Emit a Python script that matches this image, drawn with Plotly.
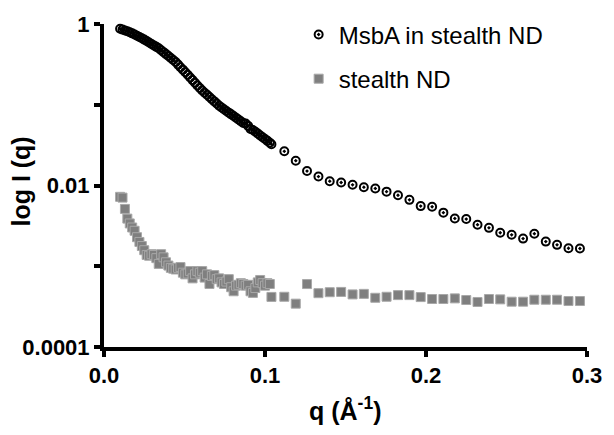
import plotly.graph_objects as go

# ---- data ----
q_dense = [
    0.0100, 0.0115, 0.0130, 0.0145, 0.0160, 0.0175, 0.0190, 0.0205, 0.0220, 0.0235,
    0.0250, 0.0265, 0.0280, 0.0295, 0.0310, 0.0325, 0.0340, 0.0355, 0.0370, 0.0385,
    0.0400, 0.0415, 0.0430, 0.0445, 0.0460, 0.0475, 0.0490, 0.0505, 0.0520, 0.0535,
    0.0550, 0.0565, 0.0580, 0.0595, 0.0610, 0.0625, 0.0640, 0.0655, 0.0670, 0.0685,
    0.0700, 0.0715, 0.0730, 0.0745, 0.0760, 0.0775, 0.0790, 0.0805, 0.0820, 0.0835,
    0.0850, 0.0865, 0.0880, 0.0895, 0.0910, 0.0925, 0.0940, 0.0955, 0.0970, 0.0985,
    0.1000, 0.1015, 0.1030, 0.1040,
]
q_sparse = [
    0.1120, 0.1191, 0.1261, 0.1332, 0.1402, 0.1473, 0.1544, 0.1614, 0.1685, 0.1755,
    0.1826, 0.1897, 0.1967, 0.2038, 0.2108, 0.2179, 0.2250, 0.2320, 0.2391, 0.2461,
    0.2532, 0.2603, 0.2673, 0.2744, 0.2814, 0.2885, 0.2956,
]

msba_dense = [
    0.873, 0.852, 0.832, 0.812, 0.792, 0.766, 0.740, 0.715, 0.690, 0.667,
    0.641, 0.615, 0.590, 0.566, 0.543, 0.521, 0.500, 0.473, 0.448, 0.424,
    0.401, 0.379, 0.359, 0.338, 0.314, 0.292, 0.272, 0.253, 0.235, 0.218,
    0.202, 0.187, 0.173, 0.161, 0.150, 0.141, 0.133, 0.125, 0.117, 0.110,
    0.1035, 0.0973, 0.0923, 0.0879, 0.0838, 0.0798, 0.0760, 0.0724, 0.0690, 0.0658,
    0.0625, 0.0594, 0.0586, 0.0547, 0.0501, 0.0486, 0.0462, 0.0440, 0.0417, 0.0396,
    0.0376, 0.0357, 0.0339, 0.0325,
]
msba_sparse = [
    0.0265, 0.0203, 0.0151, 0.0129, 0.0113, 0.0109, 0.0102, 0.00953, 0.00920, 0.00839,
    0.00757, 0.00664, 0.00556, 0.00546, 0.00461, 0.00391, 0.00384, 0.00327, 0.00299, 0.00260,
    0.00245, 0.00220, 0.00253, 0.00202, 0.00184, 0.00167, 0.00166,
]

nd_dense = [
    0.00724, 0.00708, 0.00513, 0.00389, 0.00339, 0.00302, 0.00275, 0.00229, 0.00200, 0.00178,
    0.00158, 0.00138, 0.00135, 0.00141, 0.00138, 0.00126, 0.00107, 0.00141, 0.00129, 0.00112,
    0.00102, 0.000955, 0.000933, 0.000912, 0.000955, 0.000977, 0.000832, 0.000794, 0.000813, 0.000871,
    0.000708, 0.000794, 0.000871, 0.000832, 0.000871, 0.000724, 0.000794, 0.000603, 0.000759, 0.000776,
    0.000692, 0.000708, 0.000631, 0.000603, 0.000646, 0.000692, 0.000550, 0.000490, 0.000575, 0.000589,
    0.000617, 0.000603, 0.000575, 0.000589, 0.000490, 0.000468, 0.000537, 0.000631, 0.000676, 0.000617,
    0.000575, 0.000617, 0.000603, 0.000417,
]
nd_sparse = [
    0.000419, 0.000344, 0.000602, 0.000464, 0.000477, 0.000481, 0.000448, 0.000455, 0.000407, 0.000419,
    0.000439, 0.000439, 0.000415, 0.000393, 0.000393, 0.000400, 0.000382, 0.000361, 0.000393, 0.000389,
    0.000364, 0.000364, 0.000385, 0.000385, 0.000385, 0.000371, 0.000371,
]

series_names = ["MsbA in stealth ND", "stealth ND"]
x_tick_vals = [0.0, 0.1, 0.2, 0.3]
x_tick_text = ["0.0", "0.1", "0.2", "0.3"]
y_tick_vals = [1, 0.01, 0.0001]
y_tick_text = ["1", "0.01", "0.0001"]
y_minor_vals = [0.1, 0.001]

q_values = q_dense + q_sparse
msba_values = msba_dense + msba_sparse
nd_values = nd_dense + nd_sparse

FONT = "Liberation Sans, Arial, Helvetica, sans-serif"

fig = go.Figure()
fig.add_trace(go.Scatter(
    x=q_values, y=msba_values, mode="markers", name=series_names[0],
    legendgroup="g1", cliponaxis=False,
    marker=dict(symbol="circle-open-dot", size=8, color="black",
                line=dict(color="black", width=2.0)),
))
fig.add_trace(go.Scatter(
    x=q_values, y=nd_values, mode="markers", name=series_names[1],
    legendgroup="g2", cliponaxis=False,
    marker=dict(symbol="square", size=9, color="#7f7f7f",
                line=dict(color="#a8a8a8", width=1)),
))

axis_common = dict(
    showline=True, linecolor="black", linewidth=4,
    ticks="outside", ticklen=6, tickwidth=4, tickcolor="black",
    showgrid=False, zeroline=False,
    tickfont=dict(family=FONT, size=22, color="black", weight="bold"),
)
fig.update_xaxes(range=[0, 0.3], tickmode="array", tickvals=x_tick_vals,
                 ticktext=x_tick_text, **axis_common)
fig.update_yaxes(type="log", range=[-4, 0], tickmode="array", tickvals=y_tick_vals,
                 ticktext=y_tick_text,
                 minor=dict(tickmode="array", tickvals=y_minor_vals, ticks="outside",
                            ticklen=6, tickwidth=4, tickcolor="black", showgrid=False),
                 **axis_common)

fig.update_layout(
    width=614, height=435,
    margin=dict(l=104, r=17, t=17, b=88),
    plot_bgcolor="white", paper_bgcolor="white",
    showlegend=True,
    legend=dict(x=0.403, y=1.036, xanchor="left", yanchor="top",
                font=dict(family=FONT, size=24, color="black"),
                bgcolor="rgba(0,0,0,0)", tracegroupgap=10,
                traceorder="grouped"),
    annotations=[
        dict(text="log I (q)", xref="paper", yref="paper", x=-0.172, y=0.512,
             xanchor="center", yanchor="middle", textangle=-90, showarrow=False,
             font=dict(family=FONT, size=25, color="black", weight="bold")),
        dict(text="q (Å<sup>-1</sup>)", xref="paper", yref="paper", x=0.5, y=-0.191,
             xanchor="center", yanchor="middle", showarrow=False,
             font=dict(family=FONT, size=25, color="black", weight="bold")),
    ],
)

fig.write_html("out.html")
